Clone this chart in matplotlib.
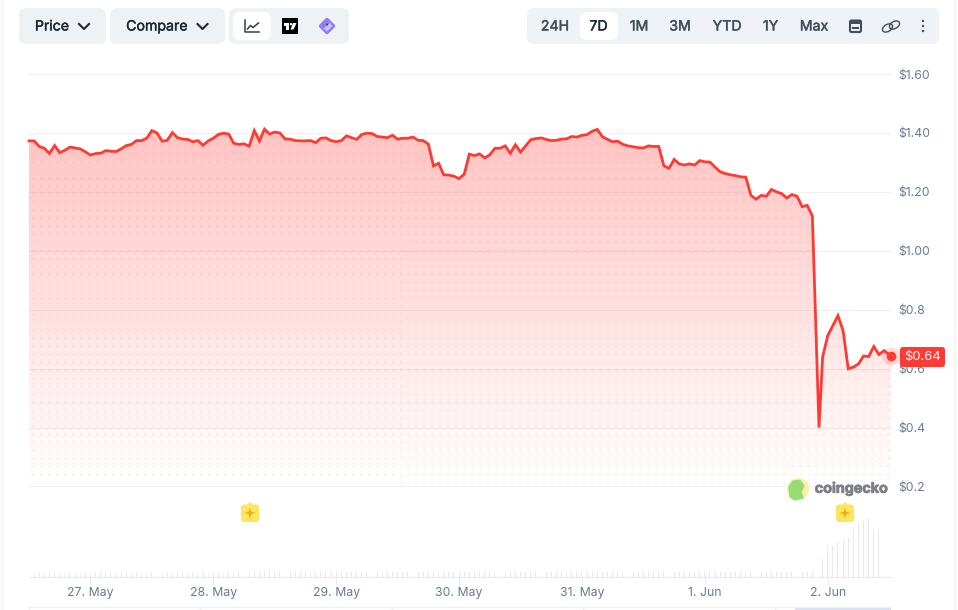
import matplotlib
matplotlib.use("Agg")
import matplotlib.pyplot as plt
import matplotlib.patheffects as pe
import numpy as np
from matplotlib.patches import FancyBboxPatch, Circle, Ellipse, Polygon, Rectangle

# DATA
hours = list(range(154)) + [154.3] + list(range(155, 168)) + [168.4]
price = [1.373, 1.373, 1.354, 1.348, 1.330, 1.357, 1.333, 1.341, 1.352, 1.349,
         1.346, 1.336, 1.325, 1.330, 1.331, 1.340, 1.338, 1.337, 1.346, 1.357,
         1.361, 1.374, 1.374, 1.382, 1.408, 1.400, 1.372, 1.375, 1.401, 1.384,
         1.379, 1.378, 1.370, 1.374, 1.358, 1.373, 1.382, 1.395, 1.399, 1.396,
         1.365, 1.361, 1.363, 1.355, 1.408, 1.373, 1.413, 1.396, 1.403, 1.400,
         1.380, 1.379, 1.374, 1.373, 1.373, 1.374, 1.367, 1.382, 1.383, 1.374,
         1.370, 1.374, 1.390, 1.384, 1.378, 1.395, 1.399, 1.398, 1.388, 1.386,
         1.384, 1.392, 1.379, 1.382, 1.382, 1.386, 1.375, 1.374, 1.362, 1.288,
         1.297, 1.258, 1.257, 1.253, 1.245, 1.260, 1.328, 1.323, 1.329, 1.315,
         1.326, 1.348, 1.348, 1.356, 1.331, 1.360, 1.335, 1.356, 1.377, 1.381,
         1.383, 1.378, 1.374, 1.375, 1.379, 1.380, 1.388, 1.386, 1.392, 1.394,
         1.406, 1.412, 1.387, 1.378, 1.370, 1.372, 1.361, 1.356, 1.353, 1.350,
         1.349, 1.356, 1.354, 1.354, 1.288, 1.280, 1.310, 1.295, 1.291, 1.295,
         1.291, 1.306, 1.302, 1.301, 1.284, 1.268, 1.262, 1.258, 1.255, 1.251,
         1.250, 1.188, 1.175, 1.188, 1.185, 1.208, 1.200, 1.194, 1.179, 1.191,
         1.185, 1.150, 1.154, 1.118, 0.400, 0.639, 0.712, 0.746, 0.780, 0.729,
         0.600, 0.605, 0.616, 0.643, 0.641, 0.675, 0.648, 0.661, 0.642]
volume = [4, 4, 5, 4, 4, 5, 4, 4, 5, 4, 4, 5, 4, 5, 5, 4, 5, 4, 4, 5, 4, 5, 4, 4,
          5, 4, 4, 5, 4, 5, 4, 4, 5, 4, 5, 4, 5, 5, 4, 6, 5, 6, 6, 5, 7, 6, 6, 7,
          6, 6, 5, 6, 5, 5, 6, 5, 5, 6, 5, 5, 6, 5, 5, 5, 6, 5, 5, 5, 6, 5, 5, 5,
          5, 5, 5, 6, 5, 5, 6, 6, 5, 6, 5, 5, 6, 5, 5, 6, 5, 5, 6, 5, 5, 5, 6, 5,
          5, 5, 5, 6, 5, 5, 5, 5, 6, 5, 5, 6, 5, 5, 6, 6, 5, 5, 5, 6, 5, 5, 5, 5,
          5, 6, 5, 5, 6, 6, 5, 5, 6, 5, 5, 5, 6, 5, 5, 5, 5, 5, 5, 5, 5, 6, 5, 5,
          5, 5, 5, 5, 5, 5, 5, 5, 5, 5, 8, 18, 31, 31, 35, 38, 39, 50, 54, 56, 59,
          47, 48, 65, 48]
price_ticks = [0.2, 0.4, 0.6, 0.8, 1.0, 1.2, 1.4, 1.6]
price_labels = ["$0.2", "$0.4", "$0.6", "$0.8", "$1.00", "$1.20", "$1.40", "$1.60"]
date_ticks = [12, 36, 60, 84, 108, 132, 156]
date_labels = ["27. May", "28. May", "29. May", "30. May", "31. May", "1. Jun", "2. Jun"]
range_buttons = ["24H", "7D", "1M", "3M", "YTD", "1Y", "Max"]
range_x = [555, 598.5, 639, 680, 727, 770.5, 814]

W, H = 958, 610
RED = "#ff3a33"
GREY = "#677a94"
plt.rcParams["font.family"] = ["Inter", "DejaVu Sans"]

fig = plt.figure(figsize=(W / 100, H / 100), dpi=100, facecolor="white")


def make_axes(left, top, right, bottom):
    return fig.add_axes([left / W, 1 - bottom / H, (right - left) / W, (bottom - top) / H])


# price pane
ax = make_axes(29, 74, 891, 486.5)
ax.patch.set_alpha(0)
for s in ax.spines.values():
    s.set_visible(False)
ax.set_yticks(price_ticks)
ax.set_yticklabels(price_labels)
ax.yaxis.tick_right()
ax.tick_params(axis="y", length=0, pad=5, labelsize=8.8, labelcolor=GREY)
ax.set_xticks([])
ax.grid(axis="y", color="#eef0f4", lw=0.8, zorder=1)
ax.set_axisbelow(True)

# gradient under the line
rgba = np.ones((256, 1, 4))
rgba[:, 0, 1] = 0.23
rgba[:, 0, 2] = 0.2
rgba[:, 0, 3] = np.linspace(0, 0.3, 256)
img = ax.imshow(rgba, extent=(0, 168.36, 0.2, 1.41), origin="lower", aspect="auto", zorder=2)
clip = Polygon(np.column_stack([hours + [hours[-1], 0], price + [0.2, 0.2]]),
               transform=ax.transData, fc="none", ec="none")
ax.add_patch(clip)
img.set_clip_path(clip)

# dotted texture
dx, dy = np.meshgrid(np.arange(0.8, 169, 1.56), np.arange(0.215, 1.42, 0.0272))
dots = ax.scatter(dx.ravel(), dy.ravel(), s=5, color=RED, alpha=0.05, lw=0, zorder=3)
dots.set_clip_path(clip)

ax.set_xlim(0, 168.36)
ax.set_ylim(0.2, 1.6)

ax.plot(hours, price, color=RED, lw=2, zorder=5, solid_joinstyle="miter", clip_on=False)
ax.scatter([hours[-1]], [price[-1]], s=170, color=RED, alpha=0.18, lw=0, zorder=6, clip_on=False)
ax.scatter([hours[-1]], [price[-1]], s=48, color=RED, lw=0, zorder=7, clip_on=False)

# volume pane
vx = make_axes(29, 490, 891, 577)
vx.patch.set_alpha(0)
for s in ["top", "left", "right"]:
    vx.spines[s].set_visible(False)
vx.spines["bottom"].set_color("#e6e9ef")
vx.bar(hours, volume, width=0.18, color="#e6e9ef")
vx.set_xlim(0, 168.36)
vx.set_ylim(0, 87)
vx.set_yticks([])
vx.set_xticks(date_ticks)
vx.set_xticklabels(date_labels)
vx.tick_params(axis="x", length=6, width=0.8, color="#e6e9ef", pad=1, labelsize=8.8, labelcolor=GREY)

# overlay in pixel coordinates for the page furniture
ui = fig.add_axes([0, 0, 1, 1], zorder=10)
ui.set_xlim(0, W)
ui.set_ylim(H, 0)
ui.axis("off")
ui.patch.set_alpha(0)


def box(x0, y0, x1, y1, color, r=7, **kw):
    p = FancyBboxPatch((x0 + r, y0 + r), x1 - x0 - 2 * r, y1 - y0 - 2 * r,
                       boxstyle=f"round,pad={r},rounding_size={r}", fc=color, ec="none", **kw)
    ui.add_patch(p)
    return p


def chevron(x, y):
    ui.plot([x - 5, x, x + 5], [y - 2.5, y + 2.5, y - 2.5], color="#1d2738", lw=1.5)


def label(x, y, txt, color="#1d2738", size=10.2):
    # stroke fakes the medium weight of the web font
    ui.text(x, y, txt, fontsize=size, color=color, ha="center", va="center",
            path_effects=[pe.withStroke(linewidth=0.3, foreground=color)])


# page edges and navigator strip
ui.plot([2.5, 2.5], [0, H], color="#f1f2f4", lw=1)
ui.plot([955.5, 955.5], [0, H], color="#f1f2f4", lw=1)
ui.plot([29, 891], [606.5, 606.5], color="#eef0f3", lw=1)
for nx in [29, 200, 392, 583, 775]:
    ui.plot([nx, nx], [606.5, H], color="#eef0f3", lw=1)
ui.add_patch(Rectangle((795, 607), 96, 3, fc="#dbe2f2", ec="none"))

# left toolbar
box(19, 8, 106, 44, "#eff2f5")
label(52, 26.5, "Price")
chevron(84, 26.5)
box(110, 8, 225, 44, "#eff2f5")
label(157, 26.5, "Compare")
chevron(202.5, 26.5)
box(229, 8, 349, 44, "#eff2f5")
box(233, 12, 271, 40, "white")
ui.plot([245.5, 245.5, 259], [20, 32, 32], color="#333c4d", lw=1.1)
ui.plot([247.5, 250.5, 253, 258.5], [29, 25.5, 27.5, 23], color="#333c4d", lw=1.1)
ui.add_patch(Rectangle((282, 18), 16, 16, fc="black", ec="none"))
ui.add_patch(Polygon([[284, 23], [289.5, 23], [289.5, 29.5], [286.5, 29.5], [286.5, 25.5], [284, 25.5]], fc="white", ec="none"))
ui.add_patch(Circle((291, 24.2), 1.2, fc="white", ec="none"))
ui.add_patch(Polygon([[293, 23], [296.5, 23], [293.5, 29.5], [290.5, 29.5]], fc="white", ec="none"))
ui.add_patch(Polygon([[327, 19.5], [333.5, 26], [327, 32.5], [320.5, 26]], fc="#8f7cf5", ec="#8f7cf5", lw=2.5, joinstyle="round"))
ui.add_patch(Polygon([[330, 23], [332.5, 26], [327, 31.5], [323.5, 28.5]], fc="#c8bdfb", ec="none"))
ui.add_patch(Circle((327, 24.5), 0.9, fc="#2f2a55", ec="none"))

# range toolbar
box(527, 8, 939, 44, "#eff2f7")
box(580, 12, 618, 40, "white")
for lab, bx in zip(range_buttons, range_x):
    label(bx, 26.5, lab, color="#1d2738" if lab == "7D" else "#414c5e")
# calendar, link and dots
ui.add_patch(FancyBboxPatch((850.5, 21), 10, 10.5, boxstyle="round,pad=0.5,rounding_size=1.5",
                            fc="none", ec="#414c5e", lw=1.5))
ui.add_patch(Rectangle((850, 20.5), 11, 3, fc="#414c5e", ec="none"))
ui.plot([853, 858], [27.5, 27.5], color="#414c5e", lw=1.5)
for lx, ly in [(887.5, 28), (894.5, 25)]:
    ui.add_patch(Ellipse((lx, ly), 11, 7, angle=-30, fc="none", ec="#414c5e", lw=1))
for ly in [21, 26, 31]:
    ui.add_patch(Circle((923, ly), 1.2, fc="#414c5e", ec="none"))

# last price tag
box(900, 347, 945, 367, RED, r=3)
ui.text(922.5, 357, "$0.64", fontsize=9.4, color="white", ha="center", va="center")

# event flags
for fx, fy in [(250, 513), (845, 513)]:
    box(fx - 9, fy - 8.5, fx + 9, fy + 9, "#ffe45f", r=3)
    ui.add_patch(Polygon([[fx - 3, fy - 8], [fx, fy - 11], [fx + 3, fy - 8]], fc="#ffe45f", ec="none"))
    ui.add_patch(Polygon([[fx, fy - 5.5], [fx + 1.3, fy - 1.3], [fx + 5.5, fy], [fx + 1.3, fy + 1.3],
                          [fx, fy + 5.5], [fx - 1.3, fy + 1.3], [fx - 5.5, fy], [fx - 1.3, fy - 1.3]],
                         fc="#eeb010", ec="none"))

# watermark
ui.add_patch(Circle((798, 489), 11, fc="#fbf0a8", ec="none"))
ui.add_patch(Polygon([[790, 497], [789, 487], [793, 481], [800, 480.5], [804, 486], [801, 492], [803, 498], [795, 500]],
                     fc="#97dc72", ec="#97dc72", lw=1, joinstyle="round"))
ui.text(851.5, 488.5, "coingecko", fontsize=10.3, color="#7d8084", ha="center", va="center", fontweight="bold",
        path_effects=[pe.withStroke(linewidth=0.6, foreground="#7d8084")])

fig.savefig("out.png", dpi=100)
